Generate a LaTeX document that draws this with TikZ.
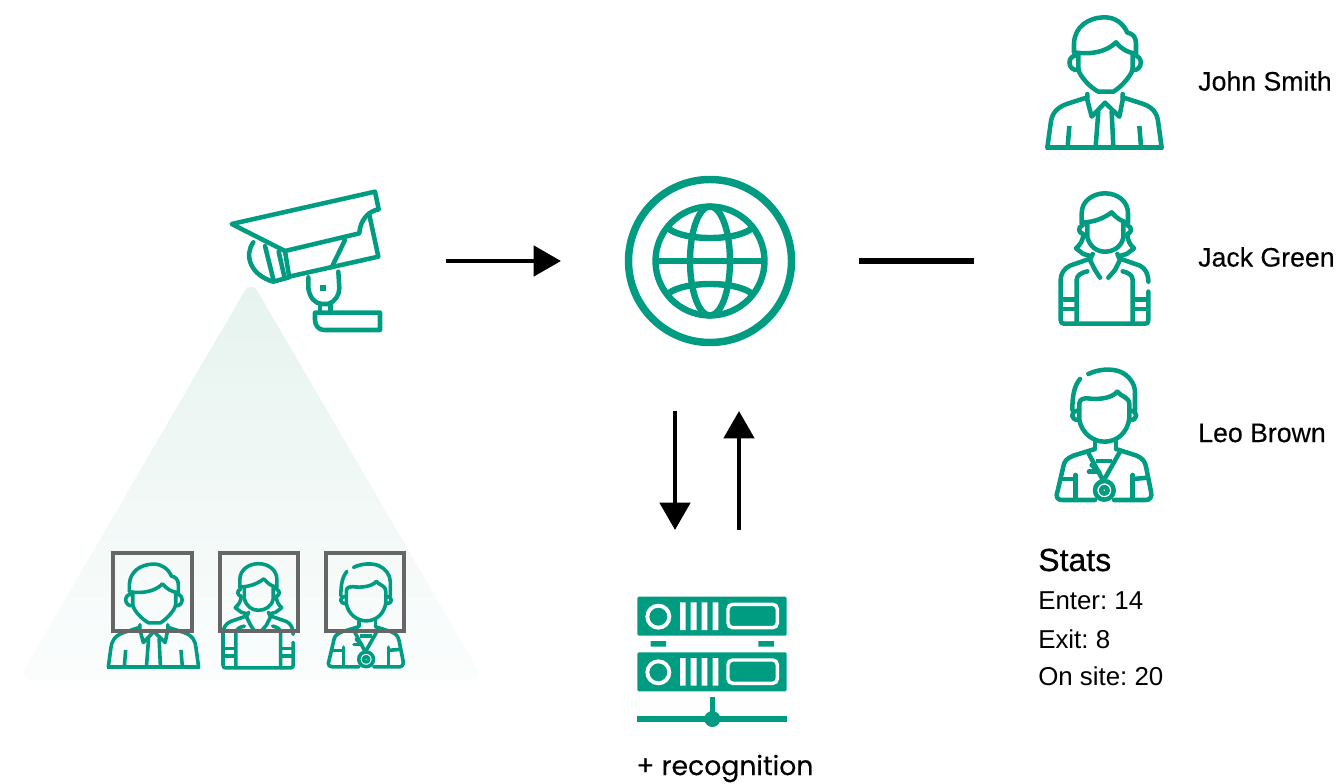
\documentclass[tikz,border=0pt]{standalone}
\usepackage{fontspec}
\setmainfont{Poppins}
\newfontfamily\recfont[FakeBold=0.35]{Poppins}
\newfontfamily\statfont{Liberation Sans}
\newfontfamily\namefont[FakeBold=0.3]{Liberation Sans}
\newfontfamily\headfont[FakeBold=0.5]{Liberation Sans}
\usetikzlibrary{arrows.meta}
\definecolor{teal1}{HTML}{009C82}
\definecolor{conec}{HTML}{E6F3EF}
\definecolor{coneb}{HTML}{FBFDFD}
\definecolor{boxg}{HTML}{666666}
\frenchspacing
\tikzset{
  ic/.style={draw=teal1,line width=#1,line cap=round,line join=round,fill=none},
  arrowline/.style={draw=black,line width=3.6pt,-{Triangle[length=20.5pt,width=22.5pt]},shorten >=0pt},
  namelabel/.style={anchor=west,inner sep=0pt,font=\namefont\fontsize{20}{22}\selectfont,text=black},
  statlabel/.style={anchor=west,inner sep=0pt,font=\statfont\fontsize{19.4}{22}\selectfont,text=black},
  facebox/.style={draw=boxg,line width=2.3pt,fill=none},
}
\newcommand{\johnicon}[4]{%
\begin{scope}[shift={(#1,#2)},scale=#3/3]
\tikzset{lw/.style={ic=#4}}
\draw[lw,line cap=butt] (132,157) -- (132,130) .. controls (134,80) and (175,52) .. (225,52) .. controls (255,52) and (280,70) .. (292,98) .. controls (308,100) and (318,112) .. (318,130) -- (318,160);
\draw[lw] (132,157) .. controls (185,165) and (230,155) .. (258,127) .. controls (272,145) and (295,160) .. (318,160);
\draw[lw] (145,160) -- (145,208) .. controls (150,230) and (180,262) .. (205,275) -- (250,275) .. controls (272,262) and (302,230) .. (308,208) -- (308,160);
\draw[lw] (140,167) .. controls (110,165) and (110,215) .. (147,210);
\draw[lw] (312,167) .. controls (340,165) and (340,215) .. (306,210);
\draw[lw] (172,282) -- (172,300) -- (185,350) -- (225,308) -- (268,350) -- (278,300) -- (278,282);
\draw[lw] (205,335) -- (197,440);
\draw[lw] (245,335) -- (250,440);
\draw[lw] (172,292) -- (110,312) .. controls (75,325) and (65,345) .. (62,370) -- (52,443);
\draw[lw] (278,292) -- (340,312) .. controls (375,325) and (382,345) .. (385,370) -- (395,443);
\draw[lw,line cap=butt] (47,443) -- (400,443);
\draw[lw,line cap=butt] (118,378) -- (113,440);
\draw[lw,line cap=butt] (328,378) -- (333,440);
\end{scope}}
\newcommand{\jackicon}[4]{%
\begin{scope}[shift={(#1,#2)},scale=#3/3]
\tikzset{lw/.style={ic=#4}}
\draw[lw] (125,130) -- (125,100) .. controls (125,62) and (160,40) .. (195,40) .. controls (230,40) and (264,62) .. (264,100) -- (264,128);
\draw[lw] (128,127) .. controls (165,127) and (195,112) .. (215,97) .. controls (230,115) and (245,125) .. (264,128);
\draw[lw] (142,130) -- (142,172) .. controls (150,200) and (170,215) .. (195,215) .. controls (220,215) and (245,200) .. (250,172) -- (250,130);
\draw[lw] (128,136) .. controls (112,140) and (115,160) .. (130,162) .. controls (130,180) and (120,195) .. (108,205) -- (130,222) -- (152,228);
\draw[lw] (262,136) .. controls (278,140) and (275,160) .. (262,162) .. controls (262,180) and (270,195) .. (282,205) -- (260,222) -- (238,228);
\draw[lw] (158,222) -- (150,240) -- (165,270) -- (180,293);
\draw[lw] (232,222) -- (240,240) -- (225,270) -- (205,293);
\draw[lw] (150,236) -- (90,257) .. controls (72,265) and (62,282) .. (62,300) -- (62,420) .. controls (62,428) and (66,431) .. (72,431) -- (316,431) .. controls (322,431) and (325,428) .. (325,420) -- (325,335);
\draw[lw] (240,236) -- (300,257) .. controls (316,265) and (325,282) .. (325,305);
\draw[lw] (110,430) -- (110,300) .. controls (110,285) and (125,278) .. (142,274);
\draw[lw] (278,430) -- (278,300) .. controls (278,285) and (265,278) .. (248,274);
\draw[lw,line cap=butt] (62,358) -- (110,358) (62,387) -- (110,387) (278,358) -- (325,358) (278,387) -- (325,387);
\end{scope}}
\newcommand{\leoicon}[4]{%
\begin{scope}[shift={(#1,#2)},scale=#3/3]
\tikzset{lw/.style={ic=#4}}
\draw[lw] (145,57) .. controls (175,42) and (215,40) .. (240,50) .. controls (265,60) and (285,85) .. (285,112) -- (285,165);
\draw[lw] (120,72) .. controls (105,90) and (97,115) .. (97,165);
\draw[lw] (118,155) -- (118,145) .. controls (120,132) and (130,130) .. (142,130) .. controls (175,135) and (215,130) .. (232,110) .. controls (242,125) and (268,125) .. (268,148) -- (268,190) .. controls (262,235) and (230,260) .. (193,260) .. controls (160,260) and (125,235) .. (118,195) -- (118,155);
\draw[lw] (112,167) .. controls (90,170) and (92,195) .. (115,195);
\draw[lw] (273,167) .. controls (295,170) and (293,195) .. (271,195);
\draw[lw] (165,258) -- (165,280);
\draw[lw] (228,258) -- (228,280);
\draw[lw] (165,282) -- (100,302) .. controls (80,310) and (72,320) .. (70,335) -- (50,420) .. controls (50,432) and (58,435) .. (68,435) -- (165,435);
\draw[lw] (228,282) -- (290,302) .. controls (308,310) and (315,320) .. (318,335) -- (333,410) .. controls (337,425) and (330,435) .. (318,435) -- (222,435);
\draw[lw] (143,290) -- (190,378) -- (240,290);
\draw[lw,line cap=butt] (168,318) -- (216,318);
\draw[lw] (193,406) circle (28);
\draw[lw] (193,406) circle (10);
\draw[lw] (147,350) -- (172,350);
\draw[lw] (155,330) -- (178,352);
\draw[lw] (107,360) -- (107,432);
\draw[lw] (278,360) -- (278,432);
\draw[lw,line cap=butt] (60,372) -- (107,372);
\draw[lw,line cap=butt] (278,372) -- (325,368);
\end{scope}}
\begin{document}
\begin{tikzpicture}[x=0.75pt,y=-0.75pt]
\useasboundingbox (0,0) rectangle (1338,784);
% light cone
\shade[top color=conec,bottom color=coneb,rounded corners=10pt] (251,280) -- (484,680) -- (18,680) -- cycle;
% camera
\begin{scope}[shift={(220,180)},scale=1/3]
\tikzset{cam/.style={ic=3.4pt}}
\draw[cam] (35,132) -- (465,35) -- (476,88) .. controls (440,95) and (420,125) .. (418,160) -- (195,213) -- cycle;
\draw[cam] (447,100) -- (475,230) -- (207,290);
\draw[cam] (195,213) -- (207,288);
\draw[cam] (100,187) .. controls (72,225) and (90,285) .. (160,305) -- (207,292);
\draw[cam] (135,198) -- (160,298);
\draw[cam] (176,215) -- (193,290);
\draw[cam] (375,180) -- (335,262);
\draw[cam] (265,292) -- (265,325) .. controls (270,355) and (285,370) .. (305,372) -- (325,372) .. controls (345,365) and (358,345) .. (358,325) -- (355,275);
\draw[cam] (300,372) -- (300,395);
\draw[cam] (332,372) -- (332,395);
\draw[cam] (288,398) -- (480,398) -- (480,450) -- (312,450) .. controls (295,450) and (285,435) .. (285,420) -- (285,398);
\fill[teal1] (301,316) rectangle (319,334);
\end{scope}
% globe
\begin{scope}[shift={(710,261)}]
\draw[teal1,line width=5.6pt] (0,0) circle (81.5);
\draw[teal1,line width=4.8pt] (0,0) circle (54.5);
\draw[teal1,line width=4.8pt] (0,0) ellipse (20 and 54.5);
\draw[teal1,line width=4.8pt] (-54.5,0) -- (54.5,0);
\draw[teal1,line width=4.8pt] (-41,-32) .. controls (-25,-20) and (25,-20) .. (41,-32);
\draw[teal1,line width=4.8pt] (-41,32) .. controls (-25,20) and (25,20) .. (41,32);
\end{scope}
% server
\begin{scope}[shift={(620,585)},scale=1/3]
\foreach \yo in {0,167}{
\fill[teal1,rounded corners=1pt] (52,35+\yo) rectangle (500,152+\yo);
\draw[white,line width=2.9pt] (115,95+\yo) circle (33);
\fill[white] (180,52+\yo) rectangle (197,135+\yo) (212,52+\yo) rectangle (230,135+\yo) (245,52+\yo) rectangle (262,135+\yo) (278,52+\yo) rectangle (295,135+\yo);
\draw[white,line width=2.6pt,rounded corners=3.5pt] (324,58+\yo) rectangle (472,128+\yo);
}
\fill[teal1] (92,168) rectangle (138,185) (415,168) rectangle (462,185);
\draw[teal1,line width=4.2pt] (277,335) -- (277,402);
\draw[teal1,line width=4.2pt] (50,402) -- (500,402);
\fill[teal1] (277,402) circle (24);
\end{scope}
% people, large
\johnicon{1030}{0}{1}{3.4pt}
\jackicon{1040}{180}{1}{3.4pt}
\leoicon{1040}{355}{1}{3.4pt}
% people, small
\johnicon{94.6}{550.4}{0.79}{2.7pt}
\jackicon{206.5}{553}{0.8}{2.7pt}
\leoicon{315.3}{552.4}{0.79}{2.7pt}
\draw[facebox] (113,553) rectangle (192,631);
\draw[facebox] (220,553) rectangle (298,631);
\draw[facebox] (326,553) rectangle (404,631);
% connectors
\coordinate (a1) at (446,261); \coordinate (a2) at (561,261);
\coordinate (d1) at (675,411); \coordinate (d2) at (675,530);
\coordinate (u1) at (739,530); \coordinate (u2) at (739,411);
\coordinate (l1) at (859,261); \coordinate (l2) at (974,261);
\draw[arrowline] (a1) -- (a2);
\draw[arrowline] (d1) -- (d2);
\draw[arrowline] (u1) -- (u2);
\draw[black,line width=4.5pt] (l1) -- (l2);
% labels
\node[namelabel] (n1) at (1198,81) {John Smith};
\node[namelabel] (n2) at (1198,257) {Jack Green};
\node[namelabel] (n3) at (1198,433) {Leo Brown};
\node[statlabel,font=\headfont\fontsize{24}{26}\selectfont] (s0) at (1038,560) {Stats};
\node[statlabel] (s1) at (1038,601) {Enter: 14};
\node[statlabel] (s2) at (1038,639) {Exit: 8};
\node[statlabel] (s3) at (1038,676) {On site: 20};
\node[anchor=west,inner sep=0pt,font=\recfont\fontsize{20}{22}\selectfont] (rec) at (636,768.5) {+ recognition};
\end{tikzpicture}
\end{document}
